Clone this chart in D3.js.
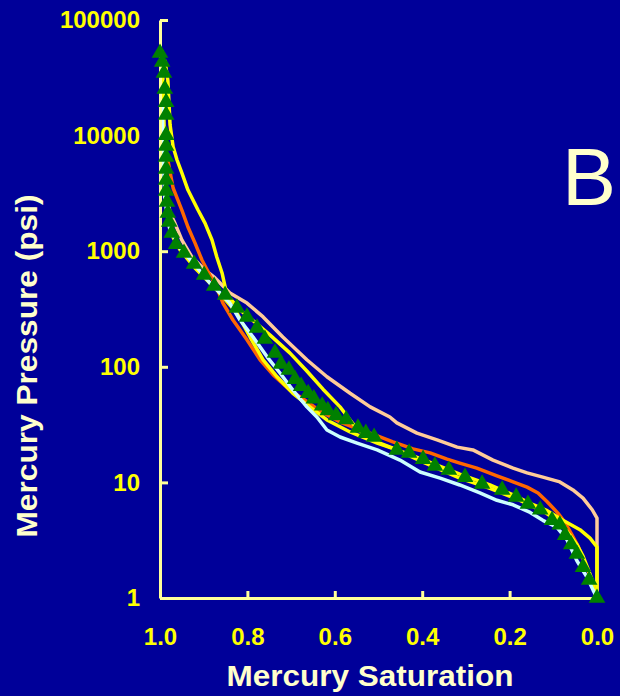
<!DOCTYPE html>
<html>
<head>
<meta charset="utf-8">
<script src="https://cdn.jsdelivr.net/npm/d3@7"></script>
<style>
  html, body { margin: 0; padding: 0; background: #000099; }
  svg { display: block; }
</style>
</head>
<body>
<svg id="chart" width="620" height="696"></svg>
<script>
// Mercury injection capillary pressure curves: [saturation, pressure (psi)]
const sampleYellowA = [
  [0.989, 45000], [0.982, 30000], [0.977, 12400], [0.970, 8000], [0.961, 6150],
  [0.950, 4750], [0.936, 3380], [0.913, 2270], [0.897, 1750], [0.881, 1250],
  [0.870, 890], [0.858, 648], [0.847, 418], [0.817, 310], [0.783, 244],
  [0.748, 188], [0.703, 132], [0.664, 92], [0.627, 64], [0.588, 45],
  [0.558, 32], [0.531, 25.2], [0.497, 21.9], [0.451, 18.7], [0.389, 15.3],
  [0.314, 11.8], [0.245, 9.5], [0.192, 7.8], [0.153, 6.6], [0.114, 5.7],
  [0.078, 4.7], [0.039, 3.9], [0.016, 3.3], [0.000, 2.76], [0.000, 1]
];
const sampleYellowB = [
  [0.995, 55000], [0.991, 13600], [0.986, 2770], [0.977, 1470], [0.954, 1025],
  [0.920, 716], [0.886, 531], [0.870, 462], [0.824, 292], [0.794, 181],
  [0.764, 115], [0.732, 82], [0.696, 59], [0.657, 45], [0.618, 34.7],
  [0.565, 27.3], [0.503, 21.9], [0.458, 19.1], [0.398, 15.0], [0.314, 10.9],
  [0.245, 8.9], [0.176, 7.0], [0.119, 5.5], [0.085, 4.5], [0.062, 3.5],
  [0.046, 2.9], [0.032, 2.3], [0.021, 1.8], [0.011, 1.43], [0.002, 1]
];
const sampleOrange = [
  [0.989, 7500], [0.982, 6150], [0.977, 4840], [0.970, 3520], [0.959, 2770],
  [0.950, 2270], [0.936, 1620], [0.920, 1180], [0.904, 839], [0.886, 622],
  [0.870, 490], [0.856, 356], [0.833, 254], [0.801, 171], [0.771, 115],
  [0.741, 85], [0.703, 63], [0.673, 53], [0.634, 41.5], [0.588, 33.3],
  [0.542, 28.4], [0.513, 26.2], [0.467, 22.4], [0.421, 19.5], [0.382, 18.0],
  [0.343, 15.9], [0.314, 14.7], [0.275, 13.3], [0.229, 11.4], [0.192, 10.1],
  [0.160, 9.1], [0.135, 8.1], [0.114, 6.8], [0.089, 5.4], [0.073, 4.5],
  [0.057, 3.5], [0.043, 2.8], [0.030, 2.1], [0.018, 1.64], [0.009, 1.3],
  [0.002, 1]
];
const samplePeach = [
  [0.993, 7500], [0.986, 3380], [0.977, 2140], [0.966, 1750], [0.950, 1250],
  [0.927, 890], [0.897, 688], [0.874, 587], [0.840, 435], [0.801, 356],
  [0.764, 270], [0.719, 181], [0.664, 115], [0.618, 82], [0.565, 59],
  [0.519, 45], [0.474, 36.8], [0.458, 32.7], [0.412, 26.7], [0.366, 23.3],
  [0.320, 20.2], [0.284, 19.1], [0.238, 15.6], [0.192, 13.3], [0.160, 12.1],
  [0.124, 11.1], [0.085, 10.1], [0.055, 8.6], [0.032, 7.3], [0.011, 5.8],
  [0.000, 4.9], [0.000, 1]
];
const sampleCyan = [
  [0.995, 20300], [0.993, 7500], [0.989, 2770], [0.977, 1525], [0.954, 1066],
  [0.920, 760], [0.886, 531], [0.858, 418], [0.840, 356], [0.817, 254],
  [0.787, 181], [0.755, 122], [0.725, 88], [0.696, 63], [0.664, 45],
  [0.641, 36.8], [0.618, 28.4], [0.588, 24.7], [0.549, 21.9], [0.503, 19.1],
  [0.451, 15.6], [0.405, 12.3], [0.359, 10.9], [0.314, 9.5], [0.268, 8.1],
  [0.229, 7.0], [0.192, 6.4], [0.153, 5.5], [0.124, 4.7], [0.092, 4.1],
  [0.069, 3.2], [0.046, 2.1], [0.023, 1.52], [0.009, 1.17], [0.000, 1]
];
const sampleGreen = [
  [1.000, 51800], [0.995, 43300], [0.991, 34800], [0.989, 25300], [0.986, 19500],
  [0.986, 15100], [0.986, 10100], [0.986, 8130], [0.986, 6530], [0.986, 5140],
  [0.986, 4130], [0.986, 3320], [0.984, 2670], [0.982, 2140], [0.979, 1790],
  [0.973, 1440], [0.963, 1150], [0.945, 965], [0.922, 775], [0.899, 622],
  [0.876, 500], [0.851, 418], [0.824, 323], [0.801, 270], [0.778, 217],
  [0.760, 174], [0.737, 132], [0.723, 106], [0.705, 94], [0.691, 78],
  [0.677, 68], [0.661, 59], [0.648, 53], [0.629, 46], [0.616, 42],
  [0.597, 38], [0.574, 35], [0.547, 29.6], [0.529, 26.7], [0.510, 24.7],
  [0.458, 19.1], [0.430, 18.0], [0.398, 15.9], [0.371, 13.9], [0.339, 12.8],
  [0.302, 11.1], [0.263, 9.7], [0.217, 8.6], [0.185, 7.5], [0.158, 6.5],
  [0.130, 5.8], [0.103, 4.7], [0.085, 4.3], [0.073, 3.5], [0.059, 2.9],
  [0.046, 2.4], [0.032, 1.85], [0.018, 1.43], [0.000, 1.0]
];

const xTickValues = [1.0, 0.8, 0.6, 0.4, 0.2, 0.0];
const yTickValues = [1, 10, 100, 1000, 10000, 100000];

const svg = d3.select("#chart");
const plotLeft = 160, plotRight = 597, plotTop = 20, plotBottom = 598;

const x = d3.scaleLinear().domain([1, 0]).range([plotLeft, plotRight]);
const y = d3.scaleLog().domain([1, 100000]).range([plotBottom, plotTop]);

const axisColor = "#FFFF99";
const tickColor = "#FFFF00";
const titleColor = "#FFFFCC";
const font = "'Liberation Sans', Arial, Helvetica, sans-serif";

// Curves
const line = d3.line().x(d => x(d[0])).y(d => y(d[1]));
const lineSeries = [
  { data: samplePeach, color: "#FFCC99" },
  { data: sampleOrange, color: "#FF6600" },
  { data: sampleYellowA, color: "#FFFF00" },
  { data: sampleYellowB, color: "#FFFF00" },
  { data: sampleCyan, color: "#CCFFFF" }
];
svg.append("g").selectAll("path")
  .data(lineSeries)
  .join("path")
  .attr("d", d => line(d.data))
  .attr("fill", "none")
  .attr("stroke", d => d.color)
  .attr("stroke-width", 3.5)
  .attr("stroke-linejoin", "round");

// Axes
const xAxis = d3.axisBottom(x)
  .tickValues(xTickValues)
  .tickFormat(d3.format(".1f"))
  .tickSizeInner(-7)
  .tickSizeOuter(0)
  .tickPadding(30);
const yAxis = d3.axisLeft(y)
  .tickValues(yTickValues)
  .tickFormat(d3.format("d"))
  .tickSizeInner(-8)
  .tickSizeOuter(0)
  .tickPadding(20);

function styleAxis(g) {
  g.select(".domain").attr("stroke", axisColor).attr("stroke-width", 3);
  g.selectAll(".tick line").attr("stroke", axisColor).attr("stroke-width", 3);
  g.selectAll(".tick text")
    .attr("fill", tickColor)
    .style("font-family", font)
    .style("font-weight", "bold")
    .style("font-size", "24px");
}

svg.append("g")
  .attr("transform", `translate(0,${plotBottom})`)
  .call(xAxis)
  .call(styleAxis);
svg.append("g")
  .attr("transform", `translate(${plotLeft},0)`)
  .call(yAxis)
  .call(styleAxis);

// Triangle markers
svg.append("g").selectAll("path")
  .data(sampleGreen)
  .join("path")
  .attr("transform", d => `translate(${x(d[0])},${y(d[1])})`)
  .attr("d", d3.symbol(d3.symbolTriangle, 120))
  .attr("fill", "#008000");

// Titles
svg.append("text")
  .attr("x", 370)
  .attr("y", 686)
  .attr("text-anchor", "middle")
  .attr("fill", titleColor)
  .attr("textLength", 287)
  .attr("lengthAdjust", "spacingAndGlyphs")
  .style("font-family", font)
  .style("font-weight", "bold")
  .style("font-size", "29px")
  .text("Mercury Saturation");

svg.append("text")
  .attr("transform", "translate(37,366) rotate(-90)")
  .attr("text-anchor", "middle")
  .attr("fill", titleColor)
  .attr("textLength", 343)
  .attr("lengthAdjust", "spacingAndGlyphs")
  .style("font-family", font)
  .style("font-weight", "bold")
  .style("font-size", "30px")
  .text("Mercury Pressure (psi)");

svg.append("text")
  .attr("x", 562)
  .attr("y", 205)
  .attr("fill", titleColor)
  .style("font-family", font)
  .style("font-size", "81px")
  .text("B");
</script>
</body>
</html>
